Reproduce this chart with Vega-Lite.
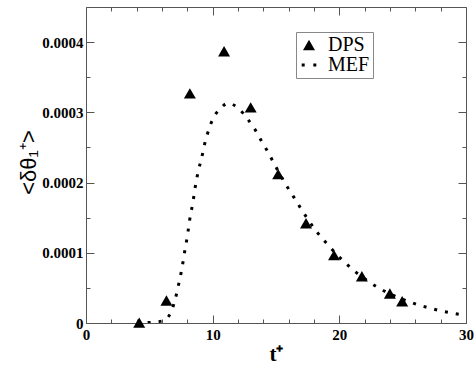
{
  "$schema": "https://vega.github.io/schema/vega-lite/v6.json",
  "autosize": "none",
  "width": 380,
  "height": 316,
  "padding": {"left": 86, "top": 7, "right": 9, "bottom": 42},
  "background": "white",
  "config": {
    "view": {"stroke": null},
    "axis": {
      "domainColor": "#555",
      "tickColor": "#555",
      "grid": false,
      "labelFont": "Liberation Serif",
      "labelFontWeight": "bold",
      "labelFontSize": 15,
      "labelColor": "black",
      "titleColor": "black"
    },
    "legend": {
      "orient": "none",
      "legendX": 210,
      "legendY": 25,
      "padding": 3,
      "strokeColor": "#888",
      "fillColor": "white",
      "rowPadding": -1,
      "labelFont": "Liberation Serif",
      "labelFontSize": 20,
      "labelColor": "black",
      "labelOffset": 9,
      "symbolSize": 144,
      "symbolFillColor": "black",
      "symbolStrokeWidth": 0
    }
  },
  "datasets": {
    "dps": [
      {"t": 4.2, "v": 0.0000005, "series": "DPS"},
      {"t": 6.35, "v": 0.000032, "series": "DPS"},
      {"t": 8.2, "v": 0.000327, "series": "DPS"},
      {"t": 10.9, "v": 0.000387, "series": "DPS"},
      {"t": 13.0, "v": 0.000307, "series": "DPS"},
      {"t": 15.17, "v": 0.000212, "series": "DPS"},
      {"t": 17.37, "v": 0.000142, "series": "DPS"},
      {"t": 19.58, "v": 0.0000966, "series": "DPS"},
      {"t": 21.78, "v": 0.0000666, "series": "DPS"},
      {"t": 23.99, "v": 0.000042, "series": "DPS"},
      {"t": 24.96, "v": 0.000031, "series": "DPS"}
    ],
    "mef": [
      {"t": 4.0, "v": 0.0},
      {"t": 5.17, "v": 0.000001},
      {"t": 6.03, "v": 0.000003},
      {"t": 6.69, "v": 0.0000143},
      {"t": 6.98, "v": 0.00003},
      {"t": 7.13, "v": 0.00004},
      {"t": 7.32, "v": 0.0000556},
      {"t": 7.5, "v": 0.0000709},
      {"t": 7.66, "v": 0.000087},
      {"t": 7.8, "v": 0.000103},
      {"t": 7.92, "v": 0.000115},
      {"t": 8.06, "v": 0.000131},
      {"t": 8.19, "v": 0.0001475},
      {"t": 8.47, "v": 0.000175},
      {"t": 8.6, "v": 0.000191},
      {"t": 8.9, "v": 0.000219},
      {"t": 9.13, "v": 0.000235},
      {"t": 9.34, "v": 0.000253},
      {"t": 9.6, "v": 0.00027},
      {"t": 10.0, "v": 0.00029},
      {"t": 10.6, "v": 0.000305},
      {"t": 11.2, "v": 0.000313},
      {"t": 12.07, "v": 0.000305},
      {"t": 12.78, "v": 0.00029},
      {"t": 13.36, "v": 0.000275},
      {"t": 13.86, "v": 0.000259},
      {"t": 14.38, "v": 0.000243},
      {"t": 14.85, "v": 0.000227},
      {"t": 15.85, "v": 0.000195},
      {"t": 16.38, "v": 0.00018},
      {"t": 16.93, "v": 0.000164},
      {"t": 18.13, "v": 0.000132},
      {"t": 18.82, "v": 0.000117},
      {"t": 20.44, "v": 0.0000862},
      {"t": 21.28, "v": 0.0000728},
      {"t": 23.02, "v": 0.0000509},
      {"t": 24.7, "v": 0.0000357},
      {"t": 25.56, "v": 0.00003},
      {"t": 26.43, "v": 0.0000248},
      {"t": 27.3, "v": 0.0000205},
      {"t": 28.16, "v": 0.0000167},
      {"t": 29.02, "v": 0.0000138},
      {"t": 30.0, "v": 0.0000108}
    ]
  },
  "layer": [
    {
      "data": {"name": "mef"},
      "mark": {"type": "line", "color": "black", "strokeWidth": 3, "strokeDash": [3, 8], "strokeCap": "butt", "interpolate": "monotone", "clip": true},
      "encoding": {
        "x": {
          "field": "t", "type": "quantitative",
          "scale": {"domain": [0, 30], "nice": false, "zero": false},
          "axis": {
            "orient": "bottom",
            "values": [0, 2, 4, 6, 8, 10, 12, 14, 16, 18, 20, 22, 24, 26, 28, 30],
            "labelExpr": "datum.value % 10 === 0 ? datum.label : ''",
            "tickSize": {"condition": {"test": "datum.value % 10 === 0", "value": -8}, "value": -4},
            "labelPadding": 12,
            "labelFlush": false,
            "title": "t⁺",
            "titleFont": "Liberation Serif",
            "titleFontWeight": "bold",
            "titleFontSize": 21,
            "titlePadding": 1
          }
        },
        "y": {
          "field": "v", "type": "quantitative",
          "scale": {"domain": [0, 0.00045], "nice": false, "zero": false},
          "axis": {
            "orient": "left",
            "values": [0, 0.00005, 0.0001, 0.00015, 0.0002, 0.00025, 0.0003, 0.00035, 0.0004],
            "labelExpr": "round(datum.value * 20000) % 2 === 0 ? (datum.value === 0 ? '0' : format(datum.value, '.4f')) : ''",
            "tickSize": {"condition": {"test": "round(datum.value * 20000) % 2 === 0", "value": -8}, "value": -4},
            "labelPadding": 11,
            "labelFlush": false,
            "title": "<δθ₁⁺>",
            "titleFont": "Liberation Sans",
            "titleFontWeight": "normal",
            "titleFontSize": 22,
            "titleX": -58,
            "titleY": 155,
            "titleBaseline": "middle"
          }
        }
      }
    },
    {
      "data": {"name": "dps"},
      "mark": {"type": "point", "filled": true, "color": "black", "opacity": 1, "size": 144},
      "encoding": {
        "x": {
          "field": "t", "type": "quantitative",
          "axis": {
            "orient": "top",
            "values": [0, 2, 4, 6, 8, 10, 12, 14, 16, 18, 20, 22, 24, 26, 28, 30],
            "labels": false,
            "title": null,
            "tickSize": {"condition": {"test": "datum.value % 10 === 0", "value": -8}, "value": -4}
          }
        },
        "y": {
          "field": "v", "type": "quantitative",
          "axis": {
            "orient": "right",
            "values": [0, 0.00005, 0.0001, 0.00015, 0.0002, 0.00025, 0.0003, 0.00035, 0.0004],
            "labels": false,
            "title": null,
            "tickSize": {"condition": {"test": "round(datum.value * 20000) % 2 === 0", "value": -8}, "value": -4}
          }
        },
        "shape": {
          "field": "series", "type": "nominal",
          "scale": {
            "domain": ["DPS", "MEF"],
            "range": ["triangle-up", "M-1.22,-0.25H-0.72V0.25H-1.22Z M0.72,-0.25H1.22V0.25H0.72Z"]
          },
          "legend": {"title": null}
        }
      }
    }
  ],
  "resolve": {"axis": {"x": "independent", "y": "independent"}}
}
